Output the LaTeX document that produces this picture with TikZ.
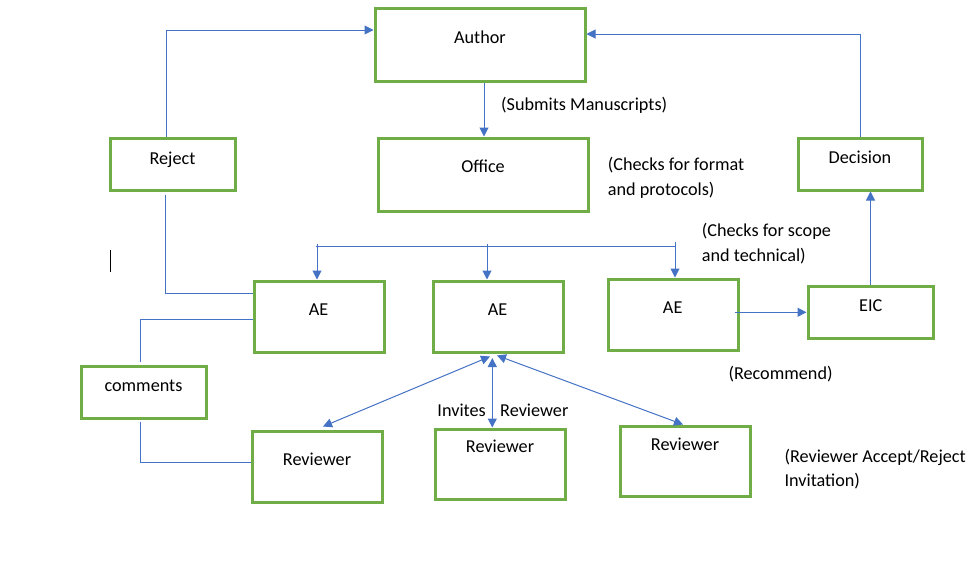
\documentclass[tikz,border=0pt]{standalone}
\usepackage{fontspec}
\setmainfont{Carlito}
\usetikzlibrary{arrows.meta,calc}
\definecolor{boxgreen}{HTML}{70AD47}
\definecolor{lineblue}{HTML}{4472C4}
\tikzset{
  box/.style={draw=boxgreen, line width=3pt, inner sep=0pt},
  wire/.style={draw=lineblue, line width=1pt},
  lbl/.style={anchor=base, inner sep=0pt},
  note/.style={anchor=base west, inner sep=0pt, align=left},
}
\begin{document}
\begin{tikzpicture}[x=1pt, y=-1pt, >={Triangle[length=9pt,width=9pt]}, font=\fontsize{18.2}{25}\selectfont]
\useasboundingbox (0,0) rectangle (970,573);

% Boxes
\node[box, minimum width=210, minimum height=73] (author) at (480,44.5) {};
\node[box, minimum width=210, minimum height=73] (office) at (483,174.5) {};
\node[box, minimum width=125, minimum height=52] (reject) at (172.5,164) {};
\node[box, minimum width=124, minimum height=52] (decision) at (860,164) {};
\node[box, minimum width=130, minimum height=71] (ae1) at (319,316.5) {};
\node[box, minimum width=130, minimum height=71] (ae2) at (498,316.5) {};
\node[box, minimum width=130, minimum height=71] (ae3) at (673,314.5) {};
\node[box, minimum width=125, minimum height=52] (eic) at (870.5,312) {};
\node[box, minimum width=125, minimum height=52] (comments) at (143.5,392) {};
\node[box, minimum width=130, minimum height=71] (rev1) at (317,466.5) {};
\node[box, minimum width=130, minimum height=70] (rev2) at (500,464) {};
\node[box, minimum width=130, minimum height=70] (rev3) at (685,461) {};

% Box texts
\node[lbl] (authortxt) at (480,43.5) {Author};
\node[lbl] (officetxt) at (483,172.7) {Office};
\node[lbl] (rejecttxt) at (172.5,164) {Reject};
\node[lbl] (decisiontxt) at (860,163.3) {Decision};
\node[lbl] (ae1txt) at (318.5,315) {AE};
\node[lbl] (ae2txt) at (497.5,315) {AE};
\node[lbl] (ae3txt) at (672.7,313.3) {AE};
\node[lbl] (eictxt) at (870.8,311.7) {EIC};
\node[lbl] (commentstxt) at (143.5,391.7) {comments};
\node[lbl] (rev1txt) at (317,465) {Reviewer};
\node[lbl] (rev2txt) at (500,452.7) {Reviewer};
\node[lbl] (rev3txt) at (685,450) {Reviewer};

% Notes (base = last line)
\node[note] (submits) at (501,110) {(Submits Manuscripts)};
\node[note] (format) at (607.7,195) {(Checks for format\\and protocols)};
\node[note] (scope) at (701.7,261.7) {(Checks for scope\\and technical)};
\node[note] (recommend) at (728.3,379.3) {(Recommend)};
\node[lbl, anchor=base east] (invites) at (486,416.7) {Invites};
\node[note] (invrev) at (500,416.7) {Reviewer};
\node[note, font=\fontsize{18.2}{24}\selectfont] (accept) at (784.3,486.7) {(Reviewer Accept/Reject\\Invitation)};

% stray mark
\draw[line width=1pt] (110,250) -- (110,272);

% Author, Office, Reject, Decision
\draw[wire,->] ($(reject.north)+(-6.5,0)$) |- ($(author.west)+(0,-14.5)$);
\draw[wire,->] (decision.north) |- ($(author.east)+(0,-10.5)$);
\draw[wire,->] ($(author.south)+(4,0)$) -- ($(office.north)+(1,0)$);

% Bus to the AEs
\coordinate (busl) at (316,246);
\coordinate (busr) at (676,246);
\draw[wire] (busl) -- (busr);
\foreach \ae/\dx in {ae1/-2, ae2/-11, ae3/2}
  \draw[wire,->] ($(\ae.north)+(\dx,-36)$) -- ($(\ae.north)+(\dx,0)$);

% Left loop
\draw[wire] ($(reject.south)+(-7.5,3)$) |- ($(ae1.west)+(0,-23.2)$);
\draw[wire] ($(ae1.west)+(0,3)$) -| ($(comments.north)+(-3.2,-2.5)$);
\draw[wire] ($(comments.south)+(-3.2,2)$) |- ($(rev1.west)+(0,-4.2)$);

% AE to EIC to Decision
\draw[wire,->] ($(ae3.east)+(-5,-2.2)$) -- ($(eic.west)+(0,0.3)$);
\draw[wire,->] (eic.north) -- (eic.north |- decision.south);

% Reviewers
\draw[wire,<->] ($(ae2.south)+(-8,3)$) -- ($(rev1.north)+(6,-3)$);
\draw[wire,<->] ($(ae2.south)+(-5.7,4.5)$) -- ($(rev2.north)+(-7.7,0)$);
\draw[wire,<->] ($(ae2.south)+(-1,2)$) -- ($(rev3.north)+(-2,0)$);
\end{tikzpicture}
\end{document}
